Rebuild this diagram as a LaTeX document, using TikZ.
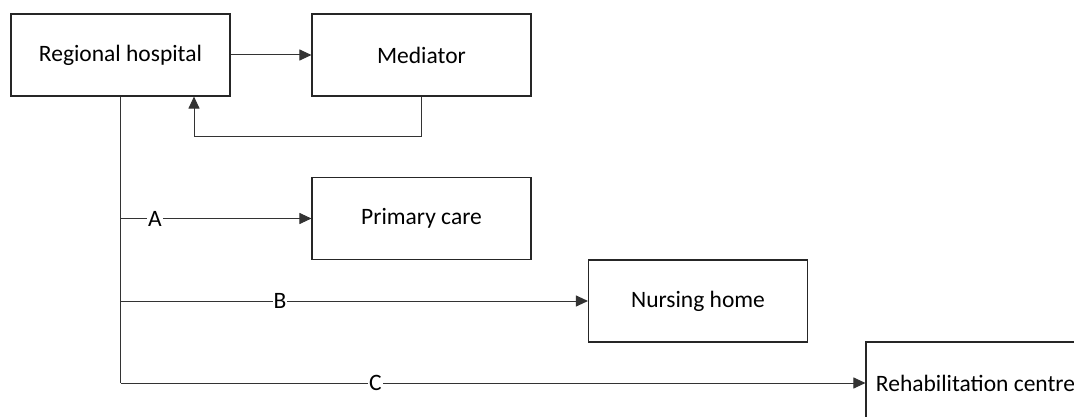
\documentclass[tikz,border=0pt]{standalone}
\usepackage{fontspec}
\setmainfont{Carlito}
\usetikzlibrary{arrows.meta}
\begin{document}
\begin{tikzpicture}[x=1pt,y=-1pt,
  box/.style={draw=black!85, line width=1.1pt, minimum width=219pt, minimum height=82pt, inner sep=0pt, font=\fontsize{23.5}{27}\selectfont, fill=white},
  conn/.style={draw=black!80, line width=1pt},
  arr/.style={conn, -{Triangle[length=12pt,width=11pt]}},
  lbl/.style={fill=white, inner sep=1pt, font=\fontsize{23.5}{27}\selectfont}]
\clip (0,0) rectangle (1074,417);
\useasboundingbox (0,0) rectangle (1074,417);
\node[box] (rh) at (120.5,55) {Regional hospital};
\node[box] (med) at (421.5,55) {Mediator};
\node[box] (pc) at (421.5,218.5) {Primary care};
\node[box] (nh) at (698,301) {Nursing home};
\node[box] (rc) at (975.5,383) {Rehabilitation centre};
\coordinate (fb1) at (421.5,137);
\coordinate (fb2) at (194,137);
\coordinate (ja) at (120.5,218.5);
\coordinate (jb) at (120.5,301);
\coordinate (jc) at (120.5,383);
\draw[arr] (rh.east) -- (med.west);
\draw[arr] (med.south) -- (fb1) -- (fb2) -- (rh.south -| fb2);
\draw[conn] (rh.south) -- (jc);
\draw[arr] (ja) -- node[lbl, pos=0.18] {A} (pc.west);
\draw[arr] (jb) -- node[lbl, pos=0.341] {B} (nh.west);
\draw[arr] (jc) -- node[lbl, pos=0.342] {C} (rc.west);
\end{tikzpicture}
\end{document}
